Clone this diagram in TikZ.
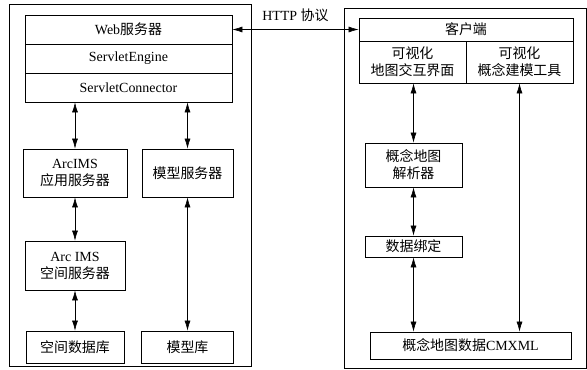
\documentclass[tikz,border=0pt]{standalone}
\usepackage{fontspec}
\setmainfont{Liberation Serif}
\newfontfamily\cjk{Noto Sans CJK SC}
\usetikzlibrary{arrows.meta,positioning}
\newcommand\lat[1]{{\rmfamily #1}}

\begin{document}
\begin{tikzpicture}[x=1bp,y=-1bp,
    blk/.style={draw, line width=0.8pt, inner sep=0pt, align=center,
      font=\fontsize{14}{17}\selectfont\cjk},
    link/.style={{Latex[length=10bp,width=6bp]}-{Latex[length=10bp,width=6bp]}, line width=0.6pt}]
    \useasboundingbox (0,0) rectangle (587,369);

    % server side
    \draw[line width=0.9pt] (9,4) rectangle (251,366);
    \node[blk, minimum width=207bp, minimum height=29bp] (web) at (128.5,29.5) {\lat{Web}服务器};
    \node[blk, minimum width=207bp, minimum height=29bp] (engine) at (128.5,58.5) {\lat{ServletEngine}};
    \node[blk, minimum width=207bp, minimum height=29bp] (conn) at (128.5,87.5) {\lat{ServletConnector}};
    \node[blk, minimum width=104bp, minimum height=48bp] (app) at (75,173) {\lat{ArcIMS}\\应用服务器};
    \node[blk, minimum width=91bp, minimum height=48bp] (msrv) at (187.5,173) {模型服务器};
    \node[blk, minimum width=100bp, minimum height=49bp] (spat) at (75,265.5) {\lat{Arc IMS}\\空间服务器};
    \node[blk, minimum width=98bp, minimum height=32bp] (sdb) at (75,347) {空间数据库};
    \node[blk, minimum width=92bp, minimum height=32bp] (mlib) at (187.5,347) {模型库};

    \draw[link] (conn.south -| app.north) -- (app.north);
    \draw[link] (conn.south -| msrv.north) -- (msrv.north);
    \draw[link] (app.south) -- (spat.north);
    \draw[link] (spat.south) -- (sdb.north);
    \draw[link] (msrv.south) -- (mlib.north);

    % client side
    \draw[line width=0.9pt] (344,8) -- (586,8) -- (586,368) -- (344,368) -- cycle;
    \node[blk, minimum width=214bp, minimum height=23bp] (client) at (466,29.5) {客户端};
    \node[blk, minimum width=107bp, minimum height=42bp] (vis1) at (412.5,62) {可视化\\地图交互界面};
    \node[blk, minimum width=107bp, minimum height=42bp] (vis2) at (519.5,62) {可视化\\概念建模工具};
    \node[blk, minimum width=97bp, minimum height=44bp] (parse) at (413.5,165) {概念地图\\解析器};
    \node[blk, minimum width=97bp, minimum height=21bp] (bind) at (413.5,246.5) {数据绑定};
    \node[blk, minimum width=201bp, minimum height=27bp] (cmxml) at (470.5,345.5) {概念地图数据\lat{CMXML}};

    \draw[link] (vis1.south -| parse.north) -- (parse.north);
    \draw[link] (parse.south) -- (bind.north);
    \draw[link] (bind.south) -- (bind.south |- cmxml.north);
    \draw[link] (vis2.south) -- (vis2.south |- cmxml.north);

    \draw[link] (web.east) -- (client.west)
      node[midway, above=4bp, font=\fontsize{14}{16}\selectfont] {HTTP {\cjk 协议}};
\end{tikzpicture}
\end{document}
